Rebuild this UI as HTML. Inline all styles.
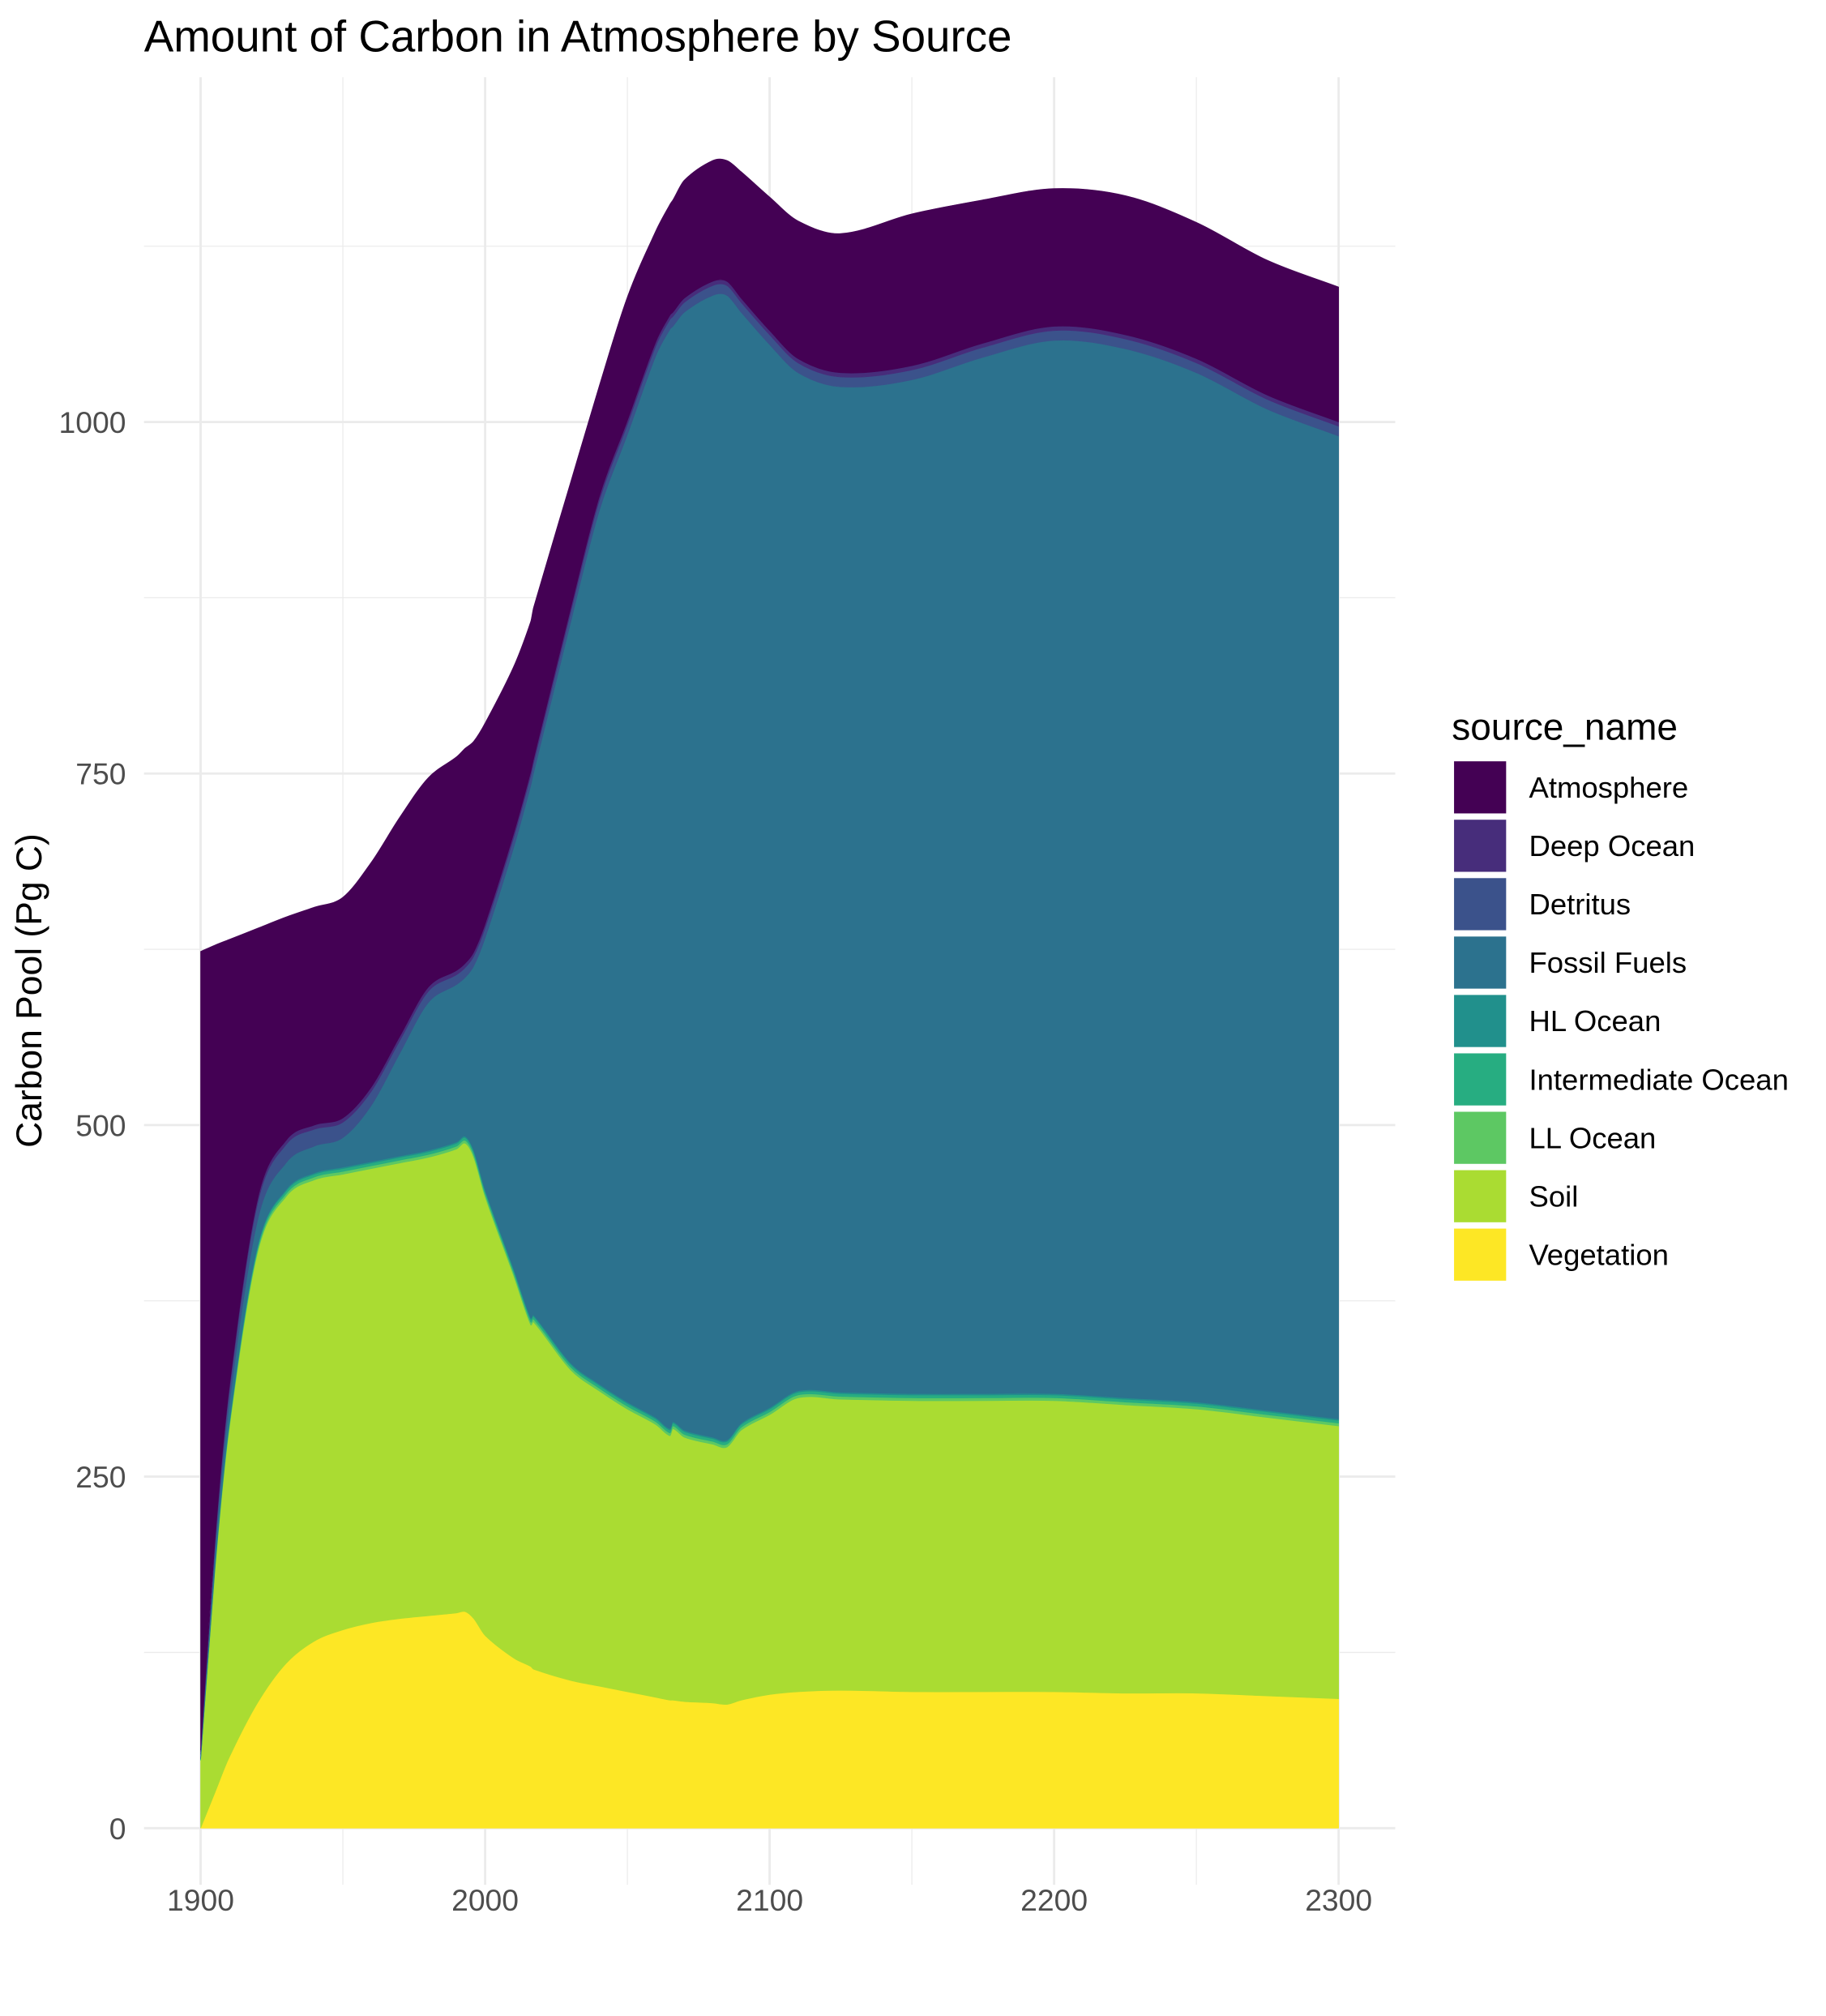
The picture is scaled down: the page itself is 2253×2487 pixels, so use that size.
<!DOCTYPE html>
<html><head><meta charset="utf-8"><title>Amount of Carbon in Atmosphere by Source</title>
<style>html,body{margin:0;padding:0;background:#fff}svg{display:block}text{font-family:"Liberation Sans",Arial,sans-serif}</style>
</head><body>
<svg id="chart" width="2253" height="2487" viewBox="0 0 1420 1567" preserveAspectRatio="none" xmlns="http://www.w3.org/2000/svg">
<rect width="1420" height="1567" fill="#fff"/>
<g id="grid"></g>
<g id="areas"></g>
<g id="axes"></g>
<text x="112" y="40" font-size="34.5" fill="#000">Amount of Carbon in Atmosphere by Source</text>
<text transform="translate(32,770) rotate(-90)" text-anchor="middle" font-size="28" fill="#000">Carbon Pool (Pg C)</text>
<g id="legend"><text x="1129" y="575" font-size="29" fill="#000">source_name</text></g>
</svg>
<script>
const years = [1900,1905,1910,1920,1930,1940,1950,1960,1970,1980,1990,1993,1996,2000,2010,2016,2017,2030,2040,2050,2060,2065,2066,2070,2080,2085,2090,2100,2110,2125,2150,2175,2200,2225,2250,2275,2300];
const vegetation = [0,25,50,89,117,133,141,146,149,151,153,154,149,137,121,115,113,105,101,97,93,91,91,90,89,88,91,95,97,98,97,97,97,96,96,94,92];
const soil = [48,157,233,320,332,328,324,323,324,326,330,333,328,312,272,243,247,221,210,201,194,188,193,188,184,183,192,199,209,207,207,207,207,205,202,198,194];
const llOcean = [0.5,1,1.5,2,2,2,2,2,2,2,2,2,2,2,2,2,2,2,2,2,2,2,2,2,2,2,2,2,2,2,2,2,2,2,2,2,2];
const intermediateOcean = [0.5,1,1.5,2,2,2,2,2,2,2,2,2,2,2,2,2,2,2,2,2,2,2,2,2,2,2,2,2,2,2,2,2,2,2,2,2,2];
const hlOcean = [0.5,1,1,1,1,1,1,1,1,1,1,1,1,1,1,1,1,1,1,1,1,1,1,1,1,1,1,1,1,1,1,1,1,1,1,1,1];
const fossilFuels = [3,10,13,18,19,19,21,40,73,105,112,113,131,179,299,378,385,526,620,688,755,782,779,795,812,814,790,756,724,715,721,737,749,746,732,712,699];
const detritus = [2,6,9,12,13,12,11,10,9,8,7,7,7,7,7,7,7,7,7,7,7,7,7,7,7,7,7,7,7,7,7,7,7,7,7,7,7];
const deepOcean = [1,2,3,3,3,3,3,3,3,3,3,3,3,3,3,3,3,3,3,3,3,3,3,3,3,3,3,3,3,3,3,3,3,3,3,3,3];
const atmosphere = [568,425,320,193,159,155,157,160,156,149,152,153,150,143,119,107,108,90,79,88,79,79,80,84,86,86,90,95,98,99,108,102,98,99,97,96,96];

const seriesNames = ["Vegetation","Soil","LL Ocean","Intermediate Ocean","HL Ocean","Fossil Fuels","Detritus","Deep Ocean","Atmosphere"];
const seriesData = [vegetation,soil,llOcean,intermediateOcean,hlOcean,fossilFuels,detritus,deepOcean,atmosphere];
const seriesColors = ["#FDE725","#AADC32","#5DC863","#27AD81","#21908C","#2C728E","#3B528B","#472D7B","#440154"];
const xTicks = [1900,2000,2100,2200,2300];
const xMinor = [1950,2050,2150,2250];
const yTicks = [0,250,500,750,1000];
const yMinor = [125,375,625,875,1125];

const NS = "http://www.w3.org/2000/svg";
function xS(yr){ return 156 + (yr-1900)*(1041-156)/400; }
function yS(v){ return 1421 - v*(1421-328)/1000; }
const PL=112, PR=1085, PT=60, PB=1465;
function mk(tag, attrs, parent){ const e=document.createElementNS(NS,tag); for(const k in attrs) e.setAttribute(k,attrs[k]); parent.appendChild(e); return e; }

const grid=document.getElementById('grid');
yMinor.forEach(v=>{ const l=mk('line',{x1:PL,x2:PR,y1:yS(v),y2:yS(v),stroke:'#ebebeb','stroke-width':0.8},grid);

 });
xMinor.forEach(v=>{ const l=mk('line',{x1:xS(v),x2:xS(v),y1:PT,y2:PB,stroke:'#ebebeb','stroke-width':0.8},grid);

 });
yTicks.forEach(v=>{ const l=mk('line',{x1:PL,x2:PR,y1:yS(v),y2:yS(v),stroke:'#ebebeb','stroke-width':1.8},grid);

 });
xTicks.forEach(v=>{ const l=mk('line',{x1:xS(v),x2:xS(v),y1:PT,y2:PB,stroke:'#ebebeb','stroke-width':1.8},grid);

 });

// Hermite spline with slope-based tangents (no overshoot loops on uneven spacing)
function spline(pts, moveFirst){
  const n=pts.length;
  const m=pts.map((p,i)=>{
    const a=pts[Math.max(0,i-1)], b=pts[Math.min(n-1,i+1)];
    return (b[1]-a[1])/(b[0]-a[0]);
  });
  let d = (moveFirst?'M':'L') + pts[0][0].toFixed(2)+','+pts[0][1].toFixed(2);
  for(let i=0;i<n-1;i++){
    const p1=pts[i], p2=pts[i+1], dx=(p2[0]-p1[0])/3;
    const c1x=p1[0]+dx, c1y=p1[1]+m[i]*dx;
    const c2x=p2[0]-dx, c2y=p2[1]-m[i+1]*dx;
    d+=' C'+c1x.toFixed(2)+','+c1y.toFixed(2)+' '+c2x.toFixed(2)+','+c2y.toFixed(2)+' '+p2[0].toFixed(2)+','+p2[1].toFixed(2);
  }
  return d;
}

const areas=document.getElementById('areas');
let base = years.map(()=>0);
seriesData.forEach((arr,si)=>{
  const top = base.map((b,i)=>b+arr[i]);
  const topPts = years.map((yr,i)=>[xS(yr), yS(top[i])]);
  const botPts = years.map((yr,i)=>[xS(yr), yS(base[i])]).reverse();
  const d = spline(topPts,true) + ' ' + spline(botPts,false) + ' Z';
  const p = mk('path',{d:d,fill:seriesColors[si],stroke:seriesColors[si],'stroke-width':0.4},areas);
  
  
  base = top;
});

const axes=document.getElementById('axes');
yTicks.forEach(v=>{ const t=mk('text',{x:98,y:yS(v)+8.5,'text-anchor':'end','font-size':23.5,fill:'#4d4d4d'},axes); t.textContent=v;

 });
xTicks.forEach(v=>{ const t=mk('text',{x:xS(v),y:1485,'text-anchor':'middle','font-size':23.5,fill:'#4d4d4d'},axes); t.textContent=v;

 });

const legend=document.getElementById('legend');
const order=[8,7,6,5,4,3,2,1,0];
order.forEach((si,k)=>{
  const y0=591+k*45.4;
  const r=mk('rect',{x:1130,y:y0,width:42,height:42,fill:seriesColors[si],stroke:'#fff','stroke-width':1.5},legend);
  
  
  const t=mk('text',{x:1189,y:y0+29,'font-size':23,fill:'#000'},legend); t.textContent=seriesNames[si];
  
  
});
</script>
</body></html>
